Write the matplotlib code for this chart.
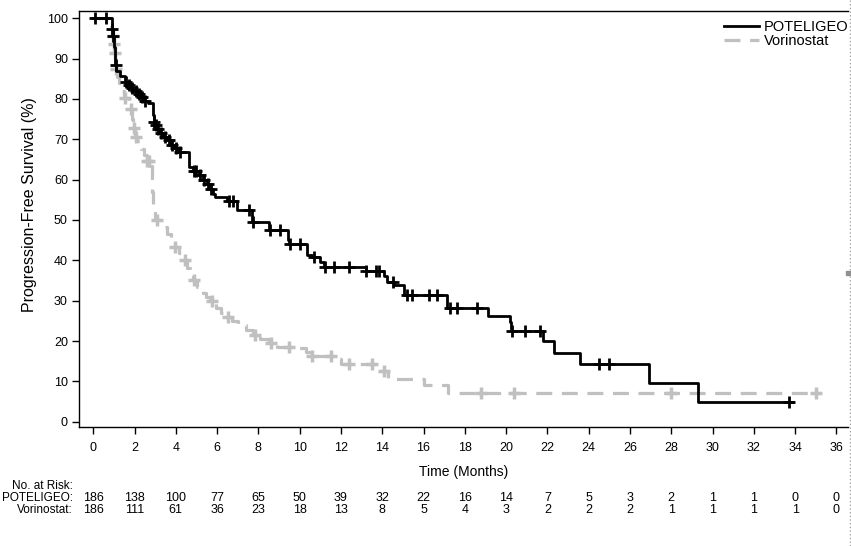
import numpy as np
import matplotlib.pyplot as plt
from matplotlib.transforms import blended_transform_factory
from matplotlib.lines import Line2D

plt.rcParams['font.family'] = ['Liberation Sans', 'DejaVu Sans']
plt.rcParams['font.size'] = 9

# POTELIGEO: step times (months) and survival (%) after each step
pot_t = [0, 0.9, 0.95, 1.0, 1.03, 1.07, 1.12, 1.3, 1.55, 1.7, 1.85, 2.0, 2.15, 2.3,
         2.45, 2.65, 2.88, 2.92, 3.0, 3.1, 3.25, 3.4, 3.6, 3.75, 3.9, 4.1, 4.66,
         4.85, 5.1, 5.3, 5.5, 5.65, 5.8, 5.9, 6.5, 6.95, 7.69, 8.5, 9.42, 9.5,
         10.36, 10.6, 11.0, 11.2, 13.2, 14.08, 14.25, 14.56, 15.05, 17.12, 19.1,
         20.2, 20.25, 21.8, 22.3, 23.6, 26.9, 29.3]
pot_s = [100, 97.3, 95.5, 93, 90.5, 88.5, 87, 85.7, 84.3, 83.5, 82.7, 82.0, 81.2, 80.5,
         79.6, 79.0, 76.0, 74.4, 73.5, 72.5, 71.5, 70.6, 69.8, 68.6, 67.8, 66.8, 63.2,
         62.2, 61.2, 60.0, 58.8, 57.6, 56.4, 55.6, 54.6, 52.4, 49.6, 47.5, 45.0, 44.0,
         41.3, 40.9, 39.7, 38.4, 37.4, 36.1, 34.7, 33.9, 31.4, 28.1, 26.2,
         24.8, 22.5, 20.1, 17.0, 14.2, 9.5, 4.8]
pot_end = 33.9
pot_cens = [0.1, 0.6, 0.92, 0.97, 1.1, 1.6, 1.75, 1.9, 2.05, 2.2, 2.35, 2.5, 2.95, 3.05,
            3.15, 3.3, 3.5, 3.65, 3.8, 4.0, 4.2, 4.9, 5.0, 5.15, 5.35, 5.55, 5.7, 6.6,
            6.75, 7.55, 7.75, 8.55, 9.05, 9.55, 10.0, 10.7, 11.25, 11.65, 12.4, 13.2,
            13.7, 13.85, 14.5, 15.2, 15.45, 16.25, 16.65, 17.3, 17.6, 18.6, 20.3, 20.9,
            21.65, 24.5, 25.0, 33.7]

# Vorinostat
vor_t = [0, 0.85, 0.93, 0.98, 1.02, 1.06, 1.1, 1.15, 1.25, 1.4, 1.5, 1.75, 1.88, 1.93,
         2.0, 2.1, 2.3, 2.45, 2.6, 2.75, 2.85, 2.9, 3.0, 3.3, 3.55, 3.75, 3.95, 4.15,
         4.35, 4.55, 4.7, 4.85, 5.05, 5.3, 5.45, 5.65, 5.95, 6.2, 6.4, 6.7, 7.0, 7.4,
         7.75, 8.1, 8.5, 8.9, 9.7, 10.3, 10.5, 11.7, 12.0, 13.8, 14.3, 16.0, 17.2]
vor_s = [100, 98, 95.5, 93.5, 91.5, 89.5, 87.5, 85.5, 84, 82, 80.2, 77.5, 75, 72.8,
         70.5, 69.5, 67.5, 66, 64.5, 63.4, 57, 52.5, 50, 48.2, 46.5, 45, 43.2, 41.8,
         40, 38.2, 36.8, 35.2, 33.5, 32, 31, 29.8, 28.2, 27, 26, 25, 24, 22.8,
         21.6, 20.5, 19.5, 18.6, 18.2, 17.3, 16.4, 15.5, 14.2, 12.6, 10.7, 9.1, 7.2]
vor_end = 35.2
vor_cens = [0.95, 1.0, 1.05, 1.1, 1.55, 1.85, 1.95, 2.05, 2.6, 2.7, 3.1, 3.95, 4.45,
            4.9, 5.75, 6.55, 7.85, 8.6, 9.5, 10.6, 11.5, 12.4, 13.5, 14.1, 18.8, 20.4,
            28.0, 35.0]

# number at risk
risk_times = list(range(0, 37, 2))
pot_risk = [186, 138, 100, 77, 65, 50, 39, 32, 22, 16, 14, 7, 5, 3, 2, 1, 1, 0, 0]
vor_risk = [186, 111, 61, 36, 23, 18, 13, 8, 5, 4, 3, 2, 2, 2, 1, 1, 1, 1, 0]

black = '#000000'
grey = '#c0c0c0'


def level_at(t, s, times):
    idx = np.searchsorted(t, times, side='right') - 1
    return np.array(s)[idx]


fig = plt.figure(figsize=(8.51, 5.46), dpi=100)
ax = fig.add_axes([79 / 851, 119 / 546, 769 / 851, 416 / 546])

# vorinostat first so black sits on top
ax.step(vor_t + [vor_end], vor_s + [vor_s[-1]], where='post', color=grey,
        lw=2.3, linestyle=(0, (5, 3)), zorder=2)
ax.plot(vor_cens, level_at(vor_t, vor_s, vor_cens), '+', color=grey, ms=8, mew=2.5, zorder=2)

ax.step(pot_t + [pot_end], pot_s + [pot_s[-1]], where='post', color=black,
        lw=2, zorder=3)
ax.plot(pot_cens, level_at(pot_t, pot_s, pot_cens), '+', color=black, ms=8, mew=2, zorder=3)

ax.set_xlim(-0.69, 36.56)
ax.set_ylim(-1.31, 101.8)
ax.set_xticks(risk_times)
ax.set_yticks(range(0, 101, 10))
ax.tick_params(axis='x', length=5, width=1, pad=6, labelsize=9)
ax.tick_params(axis='y', length=5, width=1, pad=3, labelsize=9)
ax.spines['right'].set_visible(False)
for sp in ['left', 'bottom', 'top']:
    ax.spines[sp].set_linewidth(1)

ax.set_xlabel('Time (Months)', labelpad=8, fontsize=10)
ax.set_ylabel('Progression-Free Survival (%)', fontsize=11.5)
ax.yaxis.set_label_coords(-0.055, 0.535)

handles = [Line2D([], [], color=black, lw=2),
           Line2D([], [], color=grey, lw=2.3, linestyle=(0, (5, 3)))]
ax.legend(handles, ['POTELIGEO', 'Vorinostat'], loc='upper right',
          bbox_to_anchor=(1.012, 1.0), frameon=False, handlelength=2.4,
          handletextpad=0.3, labelspacing=0.05, borderaxespad=0.2, fontsize=10.5)

# number at risk table
tr = blended_transform_factory(ax.transData, fig.transFigure)
fig.text(73 / 851, 1 - 486 / 546, 'No. at Risk:', ha='right', va='center', fontsize=8.5)
fig.text(73 / 851, 1 - 498 / 546, 'POTELIGEO:', ha='right', va='center', fontsize=8.5)
fig.text(73 / 851, 1 - 510 / 546, 'Vorinostat:', ha='right', va='center', fontsize=8.5)
for t, a, b in zip(risk_times, pot_risk, vor_risk):
    ax.text(t, 1 - 498 / 546, str(a), transform=tr, ha='center', va='center',
            clip_on=False, fontsize=9)
    ax.text(t, 1 - 510 / 546, str(b), transform=tr, ha='center', va='center',
            clip_on=False, fontsize=9)

# dotted frame edge on the right
fig.add_artist(Line2D([849.5 / 851, 849.5 / 851], [0, 1], transform=fig.transFigure,
                      color='#a0a0a0', lw=1, linestyle=':'))
fig.add_artist(Line2D([848 / 851], [1 - 273 / 546], transform=fig.transFigure,
                      marker='s', ms=3, color='#909090', lw=0))

fig.savefig('out.png', dpi=100)
